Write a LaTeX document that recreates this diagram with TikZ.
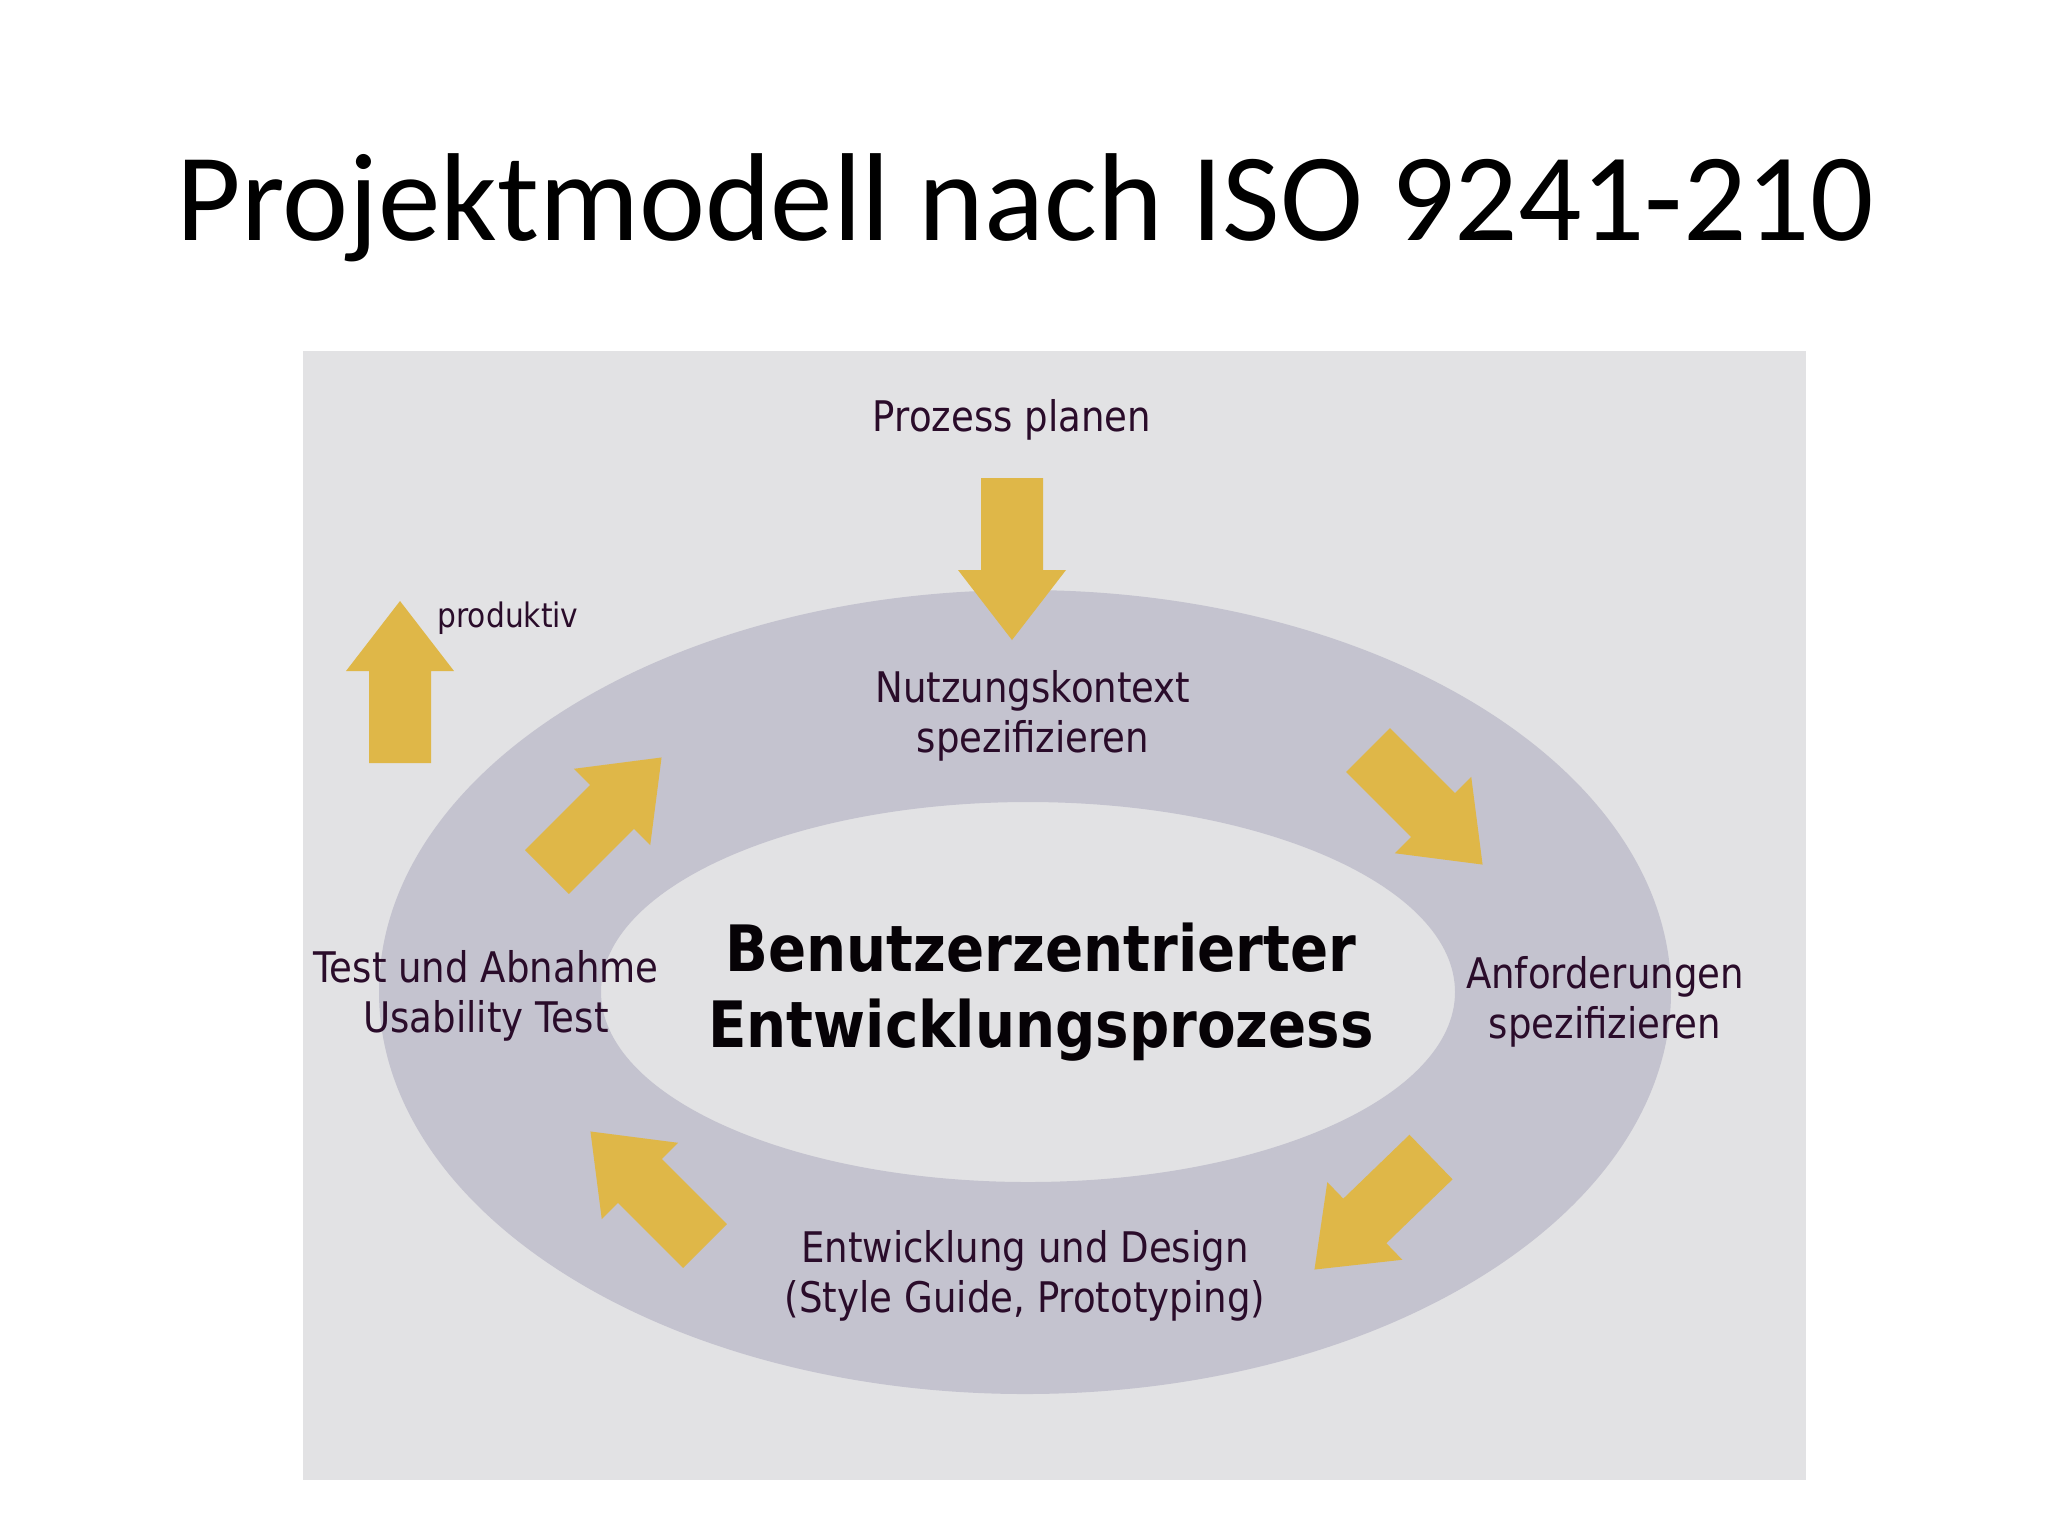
\documentclass[tikz,border=0pt]{standalone}
\usepackage{fontspec}
\setmainfont{Carlito}
\newfontfamily\labelfont[FakeStretch=0.88]{DejaVu Sans}
\definecolor{bgcol}{RGB}{226,226,228}
\definecolor{ringcol}{RGB}{196,195,207}
\definecolor{arrowcol}{RGB}{223,183,72}
\definecolor{textcol}{RGB}{42,12,42}
\tikzset{
  arrowfill/.style={fill=arrowcol},
  lbl/.style={font=\labelfont\fontsize{12pt}{14.2pt}\selectfont, text=textcol, align=center, inner sep=0pt},
  smalllbl/.style={font=\labelfont\fontsize{9.6pt}{11.5pt}\selectfont, text=textcol, inner sep=0pt},
  centerlbl/.style={font=\labelfont\bfseries\fontsize{18.2pt}{21.6pt}\selectfont, text=black!85!textcol, align=center, inner sep=0pt},
  titlelbl/.style={font=\fontsize{35.6pt}{41pt}\selectfont, text=black, inner sep=0pt}
}
\newcommand\isoarrow[2]{%
  \fill[arrowfill, shift={#1}, rotate=#2]
    (0,-31) -- (92,-31) -- (92,-54) -- (162,0) -- (92,54) -- (92,31) -- (0,31) -- cycle;}
\begin{document}
\begin{tikzpicture}[x=0.1mm, y=-0.1mm]
  \useasboundingbox (0,0) rectangle (2048,1536);
  \fill[white] (0,0) rectangle (2048,1536);
  % title
  \node[titlelbl, anchor=base] (title) at (1025,240) {Projektmodell nach ISO 9241-210};
  % panel
  \fill[bgcol] (303,351) rectangle (1806,1480);
  % ring
  \fill[ringcol, even odd rule] (1025,992) ellipse [x radius=64.6mm, y radius=40.2mm]
                                (1028,992) ellipse [x radius=42.7mm, y radius=19.0mm];
  % arrows
  \isoarrow{(1012,478)}{-90}
  \isoarrow{(400,763)}{90}
  \isoarrow{(547,872)}{45}
  \isoarrow{(1368,750)}{-45}
  \isoarrow{(1431,1157)}{-136}
  \isoarrow{(705,1246)}{135}
  % labels
  \node[lbl, anchor=base] (plan) at (1012,431) {Prozess planen};
  \node[smalllbl, anchor=base] (prod) at (508,627) {produktiv};
  \node[lbl, anchor=base] (ctx) at (1033,752) {Nutzungskontext\\spezifizieren};
  \node[lbl, anchor=base] (req) at (1605,1038) {Anforderungen\\spezifizieren};
  \node[lbl, anchor=base] (test) at (486,1032) {Test und Abnahme\\Usability Test};
  \node[lbl, anchor=base] (dev) at (1025,1312) {Entwicklung und Design\\(Style Guide, Prototyping)};
  \node[centerlbl, anchor=base] (core) at (1041,1047) {Benutzerzentrierter\\Entwicklungsprozess};
\end{tikzpicture}
\end{document}
